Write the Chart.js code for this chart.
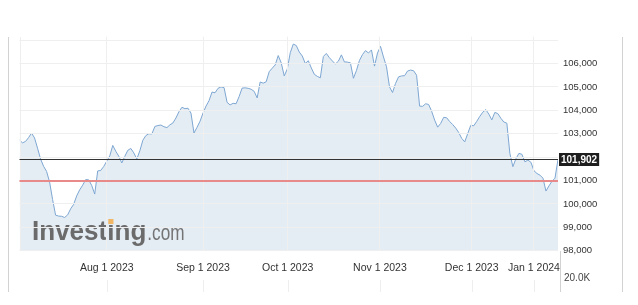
<!DOCTYPE html>
<html><head><meta charset="utf-8">
<script src="https://cdn.jsdelivr.net/npm/chart.js@4.4.0/dist/chart.umd.min.js"></script>
<style>html,body{margin:0;padding:0;background:#fff;overflow:hidden}#wrap{width:638px;height:305px}</style>
</head><body><div id="wrap"><canvas id="c" width="638" height="305"></canvas></div>
<script>
// ---- data ----
const prices = [
102730,102610,102670,102830,103030,102820,102380,101920,101610,101390,
100940,100190,99520,99480,99470,99420,99530,99790,99980,100340,
100600,100800,101040,101030,100790,100420,101410,101430,101600,101830,
102050,102500,102250,102040,101750,102030,102290,102370,102180,101920,
102270,102720,102920,103000,102990,103310,103350,103370,103300,103260,
103380,103460,103670,103940,104130,104070,104090,103880,103030,103270,
103530,103880,104180,104410,104780,104750,104940,105000,104970,104340,
104230,104300,104280,104590,104950,104960,104940,104900,104810,104530,
105210,105160,105220,105650,105800,105940,106340,106030,105470,105760,
106460,106830,106770,106490,106320,106000,106120,105810,105540,105450,
105390,106300,106430,106250,106110,105980,106100,106370,106070,106060,
106030,105370,105700,106130,106380,106550,106450,106580,105890,106450,
106730,106280,105860,105000,104760,105150,105430,105470,105480,105680,
105720,105690,105500,104180,104170,104280,104250,103960,103580,103280,
103440,103700,103680,103520,103390,103240,103050,102800,102650,103010,
103360,103340,103530,103740,103920,104030,103840,103590,103910,103860,
103660,103500,103450,102160,101590,101930,102160,102120,101800,101870,
101780,101420,101300,101230,101100,100550,100770,100970,101100,101902
];
const sessions = prices.map((_, i) => i);
const xTickSessions = [29.0, 61.0, 89.15, 119.8, 150.3, 171.0];
const xTickLabels = ['Aug 1 2023', 'Sep 1 2023', 'Oct 1 2023', 'Nov 1 2023', 'Dec 1 2023', 'Jan 1 2024'];
const yTicks = [98000, 99000, 100000, 101000, 102000, 103000, 104000, 105000, 106000, 107000];
const yMin = 98000, yMax = 107150;
const lastPrice = 101902;
const redLevel = 100990;
const volumeAxisLabel = '20.0K';

const FONT = "'Liberation Sans', Arial, sans-serif";

const overlay = {
  id: 'overlay',
  afterDatasetsDraw(chart) {
    const c = chart.ctx;
    c.save();
    c.fillStyle = '#6b6b6b';
    c.textBaseline = 'alphabetic';
    c.textAlign = 'left';
    const x0 = 32, base = 240;
    c.font = "bold 28px " + FONT;
    const sx = 0.93;
    const wInv = c.measureText('Investing').width * sx;
    const wPre = c.measureText('Invest').width * sx;
    const wI = c.measureText('i').width * sx;
    c.save(); c.translate(x0, base); c.scale(sx, 1); c.fillText('Investing', 0, 0); c.restore();
    c.fillStyle = '#f2b765';
    c.fillRect(x0 + wPre + wI / 2 - 2.6, base - 21, 5.2, 5);
    c.fillStyle = '#747474';
    c.font = "22px " + FONT;
    c.save(); c.translate(x0 + wInv + 1, base); c.scale(0.78, 1); c.fillText('.com', 0, 0); c.restore();
    c.restore();
  },
  afterDraw(chart) {
    const c = chart.ctx, a = chart.chartArea;
    const ys = chart.scales.y, xs = chart.scales.x;
    c.save();
    // frame lines
    c.fillStyle = '#d2d2d2';
    c.fillRect(8, 37, 1, 255);
    c.fillRect(622, 37, 1, 255);
    c.fillRect(560, Math.round(a.bottom), 1, 292 - Math.round(a.bottom));
    c.fillStyle = '#eeeeee';
    c.fillRect(Math.round(a.left), Math.round(a.top), 1, Math.round(a.bottom - a.top));
    xTickSessions.forEach(v => { c.fillRect(Math.round(xs.getPixelForValue(v)), 280, 1, 12); });
    // reference lines
    const yr = Math.round(ys.getPixelForValue(redLevel));
    c.fillStyle = '#e88a8a';
    c.fillRect(a.left, yr - (yr % 2), a.right - a.left, 2);
    const yb = Math.round(ys.getPixelForValue(lastPrice));
    c.fillStyle = '#333333';
    c.fillRect(a.left, yb, a.right - a.left, 1);
    // price box
    c.font = "bold 10px " + FONT;
    const txt = lastPrice.toLocaleString('en-US');
    const tw = c.measureText(txt).width;
    c.fillStyle = '#1e1e1e';
    c.fillRect(a.right + 1, yb - 6, tw + 4, 13);
    c.fillStyle = '#ffffff';
    c.textBaseline = 'middle'; c.textAlign = 'left';
    c.fillText(txt, a.right + 3, yb + 1);
    // volume axis label
    c.fillStyle = '#444'; c.font = "10px " + FONT;
    c.fillText(volumeAxisLabel, 564, 278);
    c.restore();
  }
};

new Chart(document.getElementById('c'), {
  type: 'line',
  data: {
    labels: sessions,
    datasets: [{
      data: prices,
      borderColor: '#7ea7d2',
      borderWidth: 1,
      backgroundColor: '#e4ecf4',
      fill: 'start',
      pointRadius: 0,
      tension: 0
    }]
  },
  options: {
    responsive: false,
    animation: false,
    devicePixelRatio: 1,
    layout: { padding: { left: 19.5, top: 36.6, right: 0, bottom: 0 } },
    plugins: { legend: { display: false }, tooltip: { enabled: false } },
    scales: {
      x: {
        type: 'linear',
        min: 0,
        max: prices.length - 1,
        border: { display: false },
        grid: { color: '#efefef', drawTicks: false, z: 1 },
        afterBuildTicks: s => { s.ticks = xTickSessions.map(v => ({ value: v })); },
        ticks: {
          autoSkip: false, maxRotation: 0, padding: 11,
          color: '#333', font: { family: FONT, size: 10.5 },
          callback: (v, i) => xTickLabels[i]
        },
        afterFit: s => { s.height = 305 - 250.7; }
      },
      y: {
        position: 'right',
        min: yMin,
        max: yMax,
        border: { display: false },
        grid: { color: '#efefef', drawTicks: false, z: 1 },
        afterBuildTicks: s => { s.ticks = yTicks.map(v => ({ value: v })); },
        ticks: {
          padding: 5, crossAlign: 'near',
          color: '#333', font: { family: FONT, size: 9.5 },
          callback: v => v > 106000 ? '' : v.toLocaleString('en-US')
        },
        afterFit: s => { s.width = 80; }
      }
    }
  },
  plugins: [overlay]
});
</script>
</body></html>
